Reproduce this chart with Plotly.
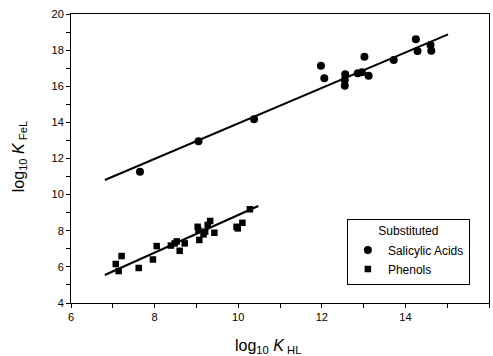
import plotly.graph_objects as go
import numpy as np

# Substituted salicylic acids: log10 K_HL, log10 K_FeL
sal_x = [7.65, 9.05, 10.38, 11.98, 12.06, 12.56, 12.55, 12.55, 12.86, 12.96, 13.02, 13.12, 13.72, 14.25, 14.29, 14.60, 14.62]
sal_y = [11.27, 12.95, 14.17, 17.14, 16.44, 16.66, 16.35, 16.03, 16.72, 16.77, 17.64, 16.58, 17.45, 18.60, 17.95, 18.28, 17.97]

# Substituted phenols
phe_x = [7.07, 7.21, 7.14, 7.62, 7.96, 8.05, 8.39, 8.48, 8.53, 8.60, 8.72, 9.03, 9.05, 9.07, 9.17, 9.21, 9.27, 9.33, 9.43, 9.96, 9.99, 10.10, 10.28]
phe_y = [6.16, 6.60, 5.77, 5.94, 6.41, 7.15, 7.18, 7.30, 7.41, 6.89, 7.30, 8.22, 8.04, 7.49, 7.80, 7.95, 8.32, 8.54, 7.89, 8.22, 8.13, 8.44, 9.19]

# Regression lines (slope, intercept, x extent)
sal_fit = {"slope": 0.982, "intercept": 4.12, "xrange": [6.81, 15.02]}
phe_fit = {"slope": 1.041, "intercept": -1.54, "xrange": [6.81, 10.48]}

x_ticks = [6, 8, 10, 12, 14, 16]
y_ticks = [4, 6, 8, 10, 12, 14, 16, 18, 20]

FONT = "Liberation Sans, Arial, sans-serif"

fig = go.Figure()

for fit in (sal_fit, phe_fit):
    lx = np.array(fit["xrange"])
    ly = fit["slope"] * lx + fit["intercept"]
    fig.add_trace(go.Scatter(x=lx, y=ly, mode="lines", line=dict(color="black", width=2),
                             showlegend=False, hoverinfo="skip"))

fig.add_trace(go.Scatter(x=sal_x, y=sal_y, mode="markers", name="Salicylic Acids",
                         marker=dict(symbol="circle", size=8, color="black")))
fig.add_trace(go.Scatter(x=phe_x, y=phe_y, mode="markers", name="Phenols",
                         marker=dict(symbol="square", size=6.5, color="black")))

axis_common = dict(showline=True, linecolor="black", linewidth=1, mirror=True,
                   ticks="outside", ticklen=4, tickcolor="black", tickwidth=1,
                   showgrid=False, zeroline=False,
                   tickfont=dict(family=FONT, size=11, color="black"))

fig.update_xaxes(range=[6, 16], tickvals=x_ticks, ticktext=[str(v) for v in x_ticks],
                 minor=dict(dtick=1, tick0=6, ticks="outside", ticklen=4, tickcolor="black"),
                 **axis_common)
fig.update_yaxes(range=[4, 20], tickvals=y_ticks, ticktext=[str(v) for v in y_ticks],
                 minor=dict(dtick=1, tick0=4, ticks="outside", ticklen=4, tickcolor="black"),
                 **axis_common)

fig.add_annotation(text="log<sub>10</sub> <i>K</i><sub> HL</sub>", xref="paper", yref="paper",
                   x=0.471, y=-0.149, showarrow=False, xanchor="center", yanchor="middle",
                   font=dict(family=FONT, size=16, color="black"))
fig.add_annotation(text="log<sub>10</sub> <i>K</i><sub> FeL</sub>", xref="paper", yref="paper",
                   x=-0.124, y=0.505, showarrow=False, xanchor="center", yanchor="middle",
                   textangle=-90, font=dict(family=FONT, size=16, color="black"))

fig.update_layout(
    width=493, height=356,
    margin=dict(l=71, r=4, t=14, b=53),
    paper_bgcolor="white", plot_bgcolor="white",
    legend=dict(x=0.66, y=0.291, xanchor="left", yanchor="top",
                bordercolor="black", borderwidth=1, bgcolor="white",
                font=dict(family=FONT, size=12, color="black"),
                title=dict(text="Substituted", side="top center",
                           font=dict(family=FONT, size=12, color="black")),
                tracegroupgap=0, itemsizing="trace"),
)

fig.write_html("out.html")
